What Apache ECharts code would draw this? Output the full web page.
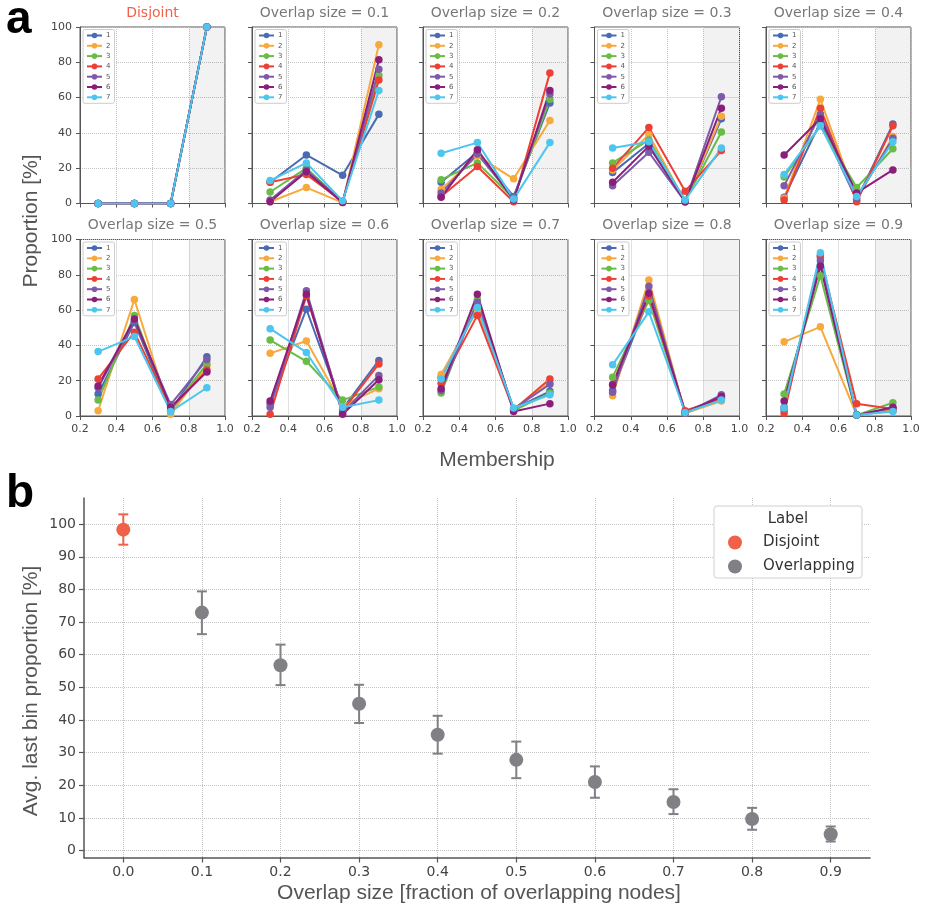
<!DOCTYPE html>
<html>
<head>
<meta charset="utf-8">
<script src="https://cdn.jsdelivr.net/npm/echarts@6/dist/echarts.min.js"></script>
<style>
html,body{margin:0;padding:0;background:#fff;}
#chart{width:925px;height:912px;}
</style>
</head>
<body>
<div id="chart"></div>
<script>
// ---------- DATA ----------
const membership = [0.3, 0.5, 0.7, 0.9];
const communities = ['1', '2', '3', '4', '5', '6', '7'];
const panelTitles = ['Disjoint', 'Overlap size = 0.1', 'Overlap size = 0.2', 'Overlap size = 0.3', 'Overlap size = 0.4',
                     'Overlap size = 0.5', 'Overlap size = 0.6', 'Overlap size = 0.7', 'Overlap size = 0.8', 'Overlap size = 0.9'];
const membershipTicks = [0.2, 0.4, 0.6, 0.8, 1.0];
const proportionTicks = [0, 20, 40, 60, 80, 100];

// each row = one community (1..7), values at membership 0.3, 0.5, 0.7, 0.9
const disjoint = [
  [0, 0, 0, 100], [0, 0, 0, 100], [0, 0, 0, 100], [0, 0, 0, 100],
  [0, 0, 0, 100], [0, 0, 0, 100], [0, 0, 0, 100]
];
const overlap01 = [
  [12, 27.5, 16, 50.5], [1, 9, 0.5, 90], [6.5, 20, 1, 72.5], [12, 16.5, 1, 70],
  [2, 19, 1, 76], [1, 18, 0.5, 81.5], [13, 23, 1.5, 64]
];
const overlap02 = [
  [12, 29, 4, 57], [8, 27, 14, 47], [13.5, 23, 3, 59], [4, 21, 1, 74],
  [6, 28, 3, 62], [3.5, 30.5, 2, 64], [28.5, 34.5, 2.5, 34.5]
];
const overlap03 = [
  [17.5, 34, 1, 48], [19, 39, 1, 49.5], [23, 36, 1.5, 40.5], [20, 43, 7, 30],
  [10, 29, 1, 60.5], [12, 32.5, 1, 54], [31.5, 35, 2, 31.5]
];
const overlap04 = [
  [3.5, 46, 2, 45], [3, 59, 2, 38], [15, 44, 9, 31], [2, 54, 1, 44],
  [10, 50.5, 3, 37], [27.5, 48, 6, 19], [16.5, 44, 4, 35]
];
const overlap05 = [
  [12.5, 53, 3, 33.5], [3, 66, 1, 28.5], [9, 57, 3, 29.5], [21, 47.5, 4, 26],
  [16, 54, 6.5, 32], [17, 55, 5, 25], [36.5, 45, 2.5, 16]
];
const overlap06 = [
  [7, 60.5, 4, 31.5], [35.5, 42.5, 6, 15.5], [43, 31, 9, 16.5], [1, 68, 3, 29.5],
  [5, 71, 2, 23], [8.5, 69, 1, 20.5], [49.5, 36, 5, 9]
];
const overlap07 = [
  [22, 62, 4, 14], [23.5, 60, 4, 19], [13, 66, 3, 13], [18.5, 57, 3.5, 21],
  [14.5, 64.5, 4, 18], [15.5, 69, 2.5, 7], [21, 61.5, 4.5, 12]
];
const overlap08 = [
  [14.5, 67, 2, 11], [11.5, 77, 1.5, 8.5], [22, 65.5, 2, 10], [18, 68, 3, 10],
  [13.5, 73.5, 1.5, 12], [17.5, 69.5, 2, 11], [29, 59, 2, 9]
];
const overlap09 = [
  [3.5, 91, 0.5, 3], [42, 50.5, 0.5, 4], [12.5, 79.5, 0.5, 7.5], [1.5, 90, 7, 4],
  [5, 88, 0.5, 4.5], [8.5, 85, 0.5, 5], [4.5, 92.5, 0.5, 2.5]
];

// panel b
const overlapSizeTicks = [0.0, 0.1, 0.2, 0.3, 0.4, 0.5, 0.6, 0.7, 0.8, 0.9];
const lastBinTicks = [0, 10, 20, 30, 40, 50, 60, 70, 80, 90, 100];
const disjointSize = [0.0];
const disjointMean = [98.3];
const disjointLow = [93.7];
const disjointHigh = [103.0];
const overlapSizes = [0.1, 0.2, 0.3, 0.4, 0.5, 0.6, 0.7, 0.8, 0.9];
const overlapMean = [72.9, 56.8, 45.0, 35.5, 27.8, 21.0, 14.9, 9.7, 5.0];
const overlapLow = [66.3, 50.7, 39.1, 29.7, 22.2, 16.2, 11.2, 6.4, 2.8];
const overlapHigh = [79.4, 63.1, 50.8, 41.3, 33.4, 25.8, 18.8, 13.1, 7.4];

// ---------- STYLE ----------
const commColors = ['#4A6BB4', '#F7A93C', '#69BC46', '#EE3F35', '#7E5BA9', '#8C1E7B', '#4CC6EE'];
const disjointColor = '#F0614A';
const overlapColor = '#808085';
const panelData = [disjoint, overlap01, overlap02, overlap03, overlap04,
                   overlap05, overlap06, overlap07, overlap08, overlap09];

const colLefts = [80, 252, 423, 594.5, 766];
const rowTops = [27, 239.5];
const pW = 145, pH = 176.5;
const tickFont = 'DejaVu Sans';
const bigFont = 'Liberation Sans';

const grids = [], xAxes = [], yAxes = [], series = [], legends = [], graphics = [];

panelData.forEach((pd, p) => {
  const row = Math.floor(p / 5), col = p % 5;
  const left = colLefts[col], top = rowTops[row];
  grids.push({left: left, top: top, width: pW, height: pH, show: true,
              borderColor: '#555', borderWidth: 1, backgroundColor: '#fff', outerBoundsMode: 'none'});
  xAxes.push({
    type: 'value', gridIndex: p, min: 0.2, max: 1.0, interval: 0.2,
    axisLine: {show: true, onZero: false, lineStyle: {color: '#555', width: 1}},
    axisTick: {show: true, inside: false, length: 4, lineStyle: {color: '#555'}},
    axisLabel: {show: row === 1, fontFamily: tickFont, fontSize: 11, color: '#444', margin: 8,
                formatter: v => (Math.round(v * 10) / 10).toFixed(1)},
    splitLine: {show: true, lineStyle: {type: 'dotted', color: '#c4c4c4', width: 1}}
  });
  yAxes.push({
    type: 'value', gridIndex: p, min: 0, max: 100, interval: 20,
    axisLine: {show: true, onZero: false, lineStyle: {color: '#555', width: 1}},
    axisTick: {show: true, inside: false, length: 4, lineStyle: {color: '#555'}},
    axisLabel: {show: col === 0, fontFamily: tickFont, fontSize: 11, color: '#444', margin: 8},
    splitLine: {show: true, lineStyle: {type: 'dotted', color: '#c4c4c4', width: 1}}
  });
  pd.forEach((vals, k) => {
    const s = {
      type: 'line', name: communities[k], xAxisIndex: p, yAxisIndex: p,
      data: membership.map((m, i) => [m, vals[i]]),
      symbol: 'circle', symbolSize: 7.5, showSymbol: true,
      lineStyle: {width: 2, color: commColors[k]},
      itemStyle: {color: commColors[k]},
      emphasis: {disabled: true}, z: 2
    };
    if (k === 0) {
      s.markArea = {silent: true, itemStyle: {color: 'rgba(0,0,0,0.05)'},
                    data: [[{xAxis: 0.8}, {xAxis: 1.0}]]};
    }
    series.push(s);
  });
  legends.push({
    data: communities, orient: 'vertical', left: left + 3, top: top + 2.5,
    itemWidth: 15, itemHeight: 7, itemGap: 2.3, padding: [2, 4, 2, 3],
    backgroundColor: '#fff', borderColor: '#ccc', borderWidth: 1, borderRadius: 2,
    textStyle: {fontFamily: tickFont, fontSize: 7, color: '#555', lineHeight: 8, padding: [0, 0, 0, -1]},
    selectedMode: false, z: 10
  });
  graphics.push({
    type: 'text', x: left + pW / 2, y: row === 0 ? 13 : 225, z: 100,
    style: {text: panelTitles[p], font: '14px "' + tickFont + '"',
            fill: p === 0 ? disjointColor : '#777', align: 'center', verticalAlign: 'middle'}
  });
});

// ---------- panel b ----------
const bIdx = 10;
grids.push({left: 84, top: 498, width: 786, height: 359.5, show: false, outerBoundsMode: 'none'});
xAxes.push({
  type: 'value', gridIndex: bIdx, min: -0.05, max: 0.95,
  axisLine: {show: true, onZero: false, lineStyle: {color: '#555', width: 1.5}},
  axisTick: {show: true, inside: false, length: 5, lineStyle: {color: '#555', width: 1.2}, customValues: overlapSizeTicks},
  axisLabel: {fontFamily: tickFont, fontSize: 14, color: '#444', margin: 8, customValues: overlapSizeTicks,
              formatter: v => v.toFixed(1)},
  splitLine: {show: true, lineStyle: {type: 'dotted', color: '#c4c4c4', width: 1}}
});
yAxes.push({
  type: 'value', gridIndex: bIdx, min: -2.1, max: 108,
  axisLine: {show: true, onZero: false, lineStyle: {color: '#555', width: 1.5}},
  axisTick: {show: true, inside: false, length: 5, lineStyle: {color: '#555', width: 1.2}, customValues: lastBinTicks},
  axisLabel: {fontFamily: tickFont, fontSize: 14, color: '#444', margin: 8, customValues: lastBinTicks},
  splitLine: {show: true, lineStyle: {type: 'dotted', color: '#c4c4c4', width: 1}}
});

function errRender(color) {
  return function (params, api) {
    const x = api.value(0);
    const lo = api.coord([x, api.value(1)]);
    const hi = api.coord([x, api.value(2)]);
    const w = 5;
    const st = {stroke: color, lineWidth: 2};
    return {type: 'group', children: [
      {type: 'line', shape: {x1: lo[0], y1: lo[1], x2: hi[0], y2: hi[1]}, style: st},
      {type: 'line', shape: {x1: lo[0] - w, y1: lo[1], x2: lo[0] + w, y2: lo[1]}, style: st},
      {type: 'line', shape: {x1: hi[0] - w, y1: hi[1], x2: hi[0] + w, y2: hi[1]}, style: st}
    ]};
  };
}

series.push({
  type: 'custom', name: 'disjointErr', xAxisIndex: bIdx, yAxisIndex: bIdx,
  renderItem: errRender(disjointColor), encode: {x: 0, y: [1, 2]},
  data: disjointSize.map((s, i) => [s, disjointLow[i], disjointHigh[i]]), z: 3, silent: true
});
series.push({
  type: 'custom', name: 'overlapErr', xAxisIndex: bIdx, yAxisIndex: bIdx,
  renderItem: errRender(overlapColor), encode: {x: 0, y: [1, 2]},
  data: overlapSizes.map((s, i) => [s, overlapLow[i], overlapHigh[i]]), z: 3, silent: true
});
series.push({
  type: 'scatter', name: 'Disjoint', xAxisIndex: bIdx, yAxisIndex: bIdx,
  data: disjointSize.map((s, i) => [s, disjointMean[i]]),
  symbol: 'circle', symbolSize: 14, itemStyle: {color: disjointColor, opacity: 1}, z: 4,
  emphasis: {disabled: true}
});
series.push({
  type: 'scatter', name: 'Overlapping', xAxisIndex: bIdx, yAxisIndex: bIdx,
  data: overlapSizes.map((s, i) => [s, overlapMean[i]]),
  symbol: 'circle', symbolSize: 14, itemStyle: {color: overlapColor, opacity: 1}, z: 4,
  emphasis: {disabled: true}
});

// legend box b
graphics.push({
  type: 'rect', shape: {x: 714, y: 506, width: 148, height: 72, r: 3}, z: 50,
  style: {fill: '#fff', stroke: '#cfcfcf', lineWidth: 1}
});
graphics.push({
  type: 'text', x: 788, y: 519, z: 51,
  style: {text: 'Label', font: '15px "' + tickFont + '"', fill: '#333', align: 'center', verticalAlign: 'middle'}
});
legends.push({
  data: ['Disjoint', 'Overlapping'], orient: 'vertical', left: 728, top: 535,
  icon: 'circle', itemWidth: 14, itemHeight: 14, itemGap: 9, padding: 0,
  textStyle: {fontFamily: tickFont, fontSize: 15, color: '#333', padding: [0, 0, 0, 16]},
  selectedMode: false, z: 60
});

// big labels
graphics.push({type: 'text', x: 6, y: 20, z: 100,
  style: {text: 'a', font: 'bold 46px "' + bigFont + '"', fill: '#000', align: 'left', verticalAlign: 'middle'}});
graphics.push({type: 'text', x: 6, y: 494, z: 100,
  style: {text: 'b', font: 'bold 46px "' + bigFont + '"', fill: '#000', align: 'left', verticalAlign: 'middle'}});
graphics.push({type: 'text', x: 31, y: 221, rotation: Math.PI / 2, z: 100,
  style: {text: 'Proportion [%]', font: '21px "' + bigFont + '"', fill: '#555', align: 'center', verticalAlign: 'middle'}});
graphics.push({type: 'text', x: 497, y: 460, z: 100,
  style: {text: 'Membership', font: '21px "' + bigFont + '"', fill: '#555', align: 'center', verticalAlign: 'middle'}});
graphics.push({type: 'text', x: 31, y: 691, rotation: Math.PI / 2, z: 100,
  style: {text: 'Avg. last bin proportion [%]', font: '21px "' + bigFont + '"', fill: '#555', align: 'center', verticalAlign: 'middle'}});
graphics.push({type: 'text', x: 479, y: 893, z: 100,
  style: {text: 'Overlap size [fraction of overlapping nodes]', font: '21px "' + bigFont + '"', fill: '#555', align: 'center', verticalAlign: 'middle'}});

const chart = echarts.init(document.getElementById('chart'), null, {renderer: 'canvas'});
chart.setOption({
  animation: false,
  backgroundColor: '#fff',
  grid: grids,
  xAxis: xAxes,
  yAxis: yAxes,
  legend: legends,
  series: series,
  graphic: graphics
});
</script>
</body>
</html>
